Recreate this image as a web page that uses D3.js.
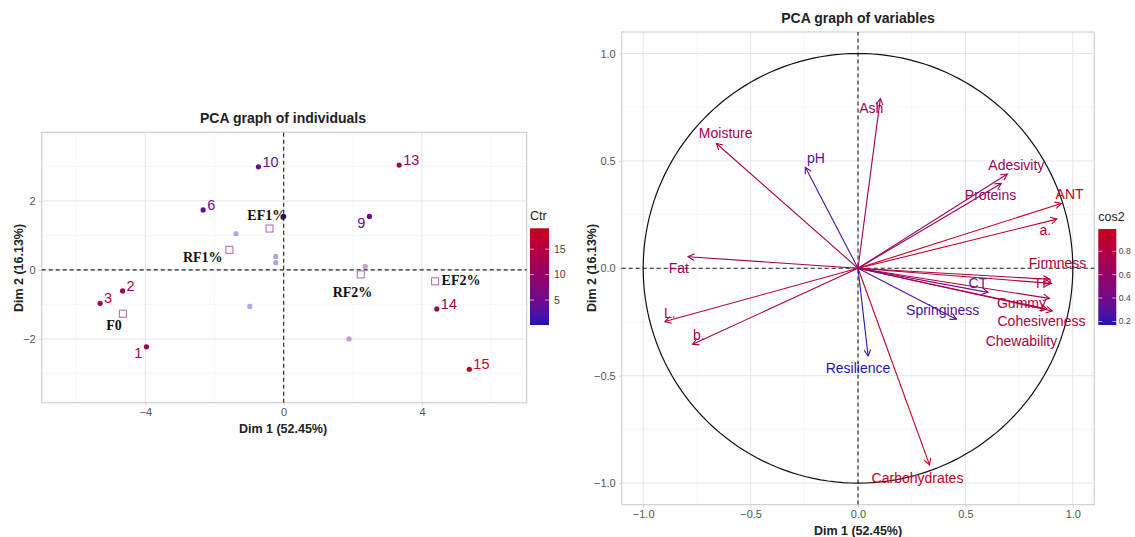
<!DOCTYPE html>
<html>
<head>
<meta charset="utf-8">
<script src="https://cdn.jsdelivr.net/npm/d3@7"></script>
<style>
  body { margin: 0; background: #fff; }
  text { font-family: "Liberation Sans", Arial, sans-serif; }
</style>
</head>
<body>
<svg id="chart" width="1135" height="537"></svg>
<script>
// ---- individuals (left plot)
indNames = ["1", "2", "3", "6", "9", "10", "13", "14", "15", ""];
indDim1 = [-3.97, -4.66, -5.31, -2.33, 2.48, -0.73, 3.34, 4.43, 5.37, 0.0];
indDim2 = [-2.23, -0.61, -0.97, 1.74, 1.55, 2.99, 3.04, -1.13, -2.88, 1.55];
indCtr = [10.6, 11.3, 14.9, 4.3, 4.4, 4.9, 10.4, 10.7, 19.0, 1.2];
indLabelSide = [-1, 1, 1, 1, -1, 1, 1, 1, 1, 0];

// faded individuals (labels hidden)
fadedDim1 = [-1.38, -0.23, -0.23, -0.98, 2.36, 1.89];
fadedDim2 = [1.05, 0.39, 0.21, -1.06, 0.10, -2.0];
fadedCtr = [1.5, 0.3, 0.2, 0.8, 2.8, 3.8];

// group means
groupNames = ["F0", "RF1%", "EF1%", "RF2%", "EF2%"];
groupDim1 = [-4.65, -1.57, -0.41, 2.23, 4.38];
groupDim2 = [-1.27, 0.58, 1.20, -0.13, -0.33];
groupLabelDim1 = [-4.91, -2.34, -0.49, 1.99, 5.13];
groupLabelDim2 = [-1.59, 0.38, 1.59, -0.64, -0.29];

ctrTicks = [5, 10, 15];

// ---- variables (right plot)
varNames = ["Moisture", "pH", "Fat", "Ash", "Adesivity", "Proteins", "ANT", "a.", "Firmness", "TP",
  "Gummy", "Cohesiveness", "Chewability", "CT", "Springiness", "Resilience", "L.", "b.", "Carbohydrates"];
varDim1 = [-0.659, -0.245, -0.791, 0.104, 0.695, 0.667, 0.946, 0.926, 0.891, 0.900,
  0.891, 0.904, 0.880, 0.605, 0.458, 0.047, -0.899, -0.770, 0.333];
varDim2 = [0.581, 0.470, 0.054, 0.790, 0.439, 0.395, 0.302, 0.229, -0.051, -0.070,
  -0.140, -0.199, -0.190, -0.112, -0.237, -0.408, -0.248, -0.354, -0.915];
varCos2 = [0.77, 0.28, 0.63, 0.64, 0.68, 0.60, 0.99, 0.91, 0.80, 0.82,
  0.81, 0.86, 0.81, 0.38, 0.27, 0.17, 0.87, 0.72, 0.95];
varLabelDim1 = [-0.616, -0.196, -0.834, 0.062, 0.737, 0.617, 0.985, 0.872, 0.929, 0.859,
  0.761, 0.854, 0.761, 0.558, 0.394, 0.0, -0.876, -0.741, 0.277];
varLabelDim2 = [0.629, 0.513, 0.0, 0.746, 0.48, 0.341, 0.346, 0.178, 0.025, -0.068,
  -0.16, -0.248, -0.338, -0.067, -0.194, -0.464, -0.208, -0.31, -0.975];

cos2Ticks = [0.2, 0.4, 0.6, 0.8];

let svg = d3.select("#chart");
const lowCol = "#1c16b4", highCol = "#c8001c";

function drawGrid(g, x, y, xMajor, xMinor, yMajor, yMinor) {
  let x0 = x.range()[0], x1 = x.range()[1], y0 = y.range()[0], y1 = y.range()[1];
  g.selectAll(".vmin").data(xMinor).enter().append("line")
    .attr("x1", d => x(d)).attr("x2", d => x(d)).attr("y1", y0).attr("y2", y1)
    .style("stroke", "#f1f1f1").style("stroke-width", 0.6);
  g.selectAll(".hmin").data(yMinor).enter().append("line")
    .attr("y1", d => y(d)).attr("y2", d => y(d)).attr("x1", x0).attr("x2", x1)
    .style("stroke", "#f1f1f1").style("stroke-width", 0.6);
  g.selectAll(".vmaj").data(xMajor).enter().append("line")
    .attr("x1", d => x(d)).attr("x2", d => x(d)).attr("y1", y0).attr("y2", y1)
    .style("stroke", "#e6e6e6").style("stroke-width", 1);
  g.selectAll(".hmaj").data(yMajor).enter().append("line")
    .attr("y1", d => y(d)).attr("y2", d => y(d)).attr("x1", x0).attr("x2", x1)
    .style("stroke", "#e6e6e6").style("stroke-width", 1);
  g.append("rect").attr("x", x0).attr("y", y1).attr("width", x1 - x0).attr("height", y0 - y1)
    .style("fill", "none").style("stroke", "#d4d4d4").style("stroke-width", 1.3);
}

function drawAxes(g, x, y, xTicks, yTicks, fmt) {
  let xa = d3.axisBottom(x).tickValues(xTicks).tickSize(3).tickFormat(fmt);
  let ya = d3.axisLeft(y).tickValues(yTicks).tickSize(3).tickFormat(fmt);
  let gx = g.append("g").attr("transform", "translate(0," + y.range()[0] + ")").call(xa);
  let gy = g.append("g").attr("transform", "translate(" + x.range()[0] + ",0)").call(ya);
  [gx, gy].forEach(a => {
    a.select(".domain").remove();
    a.selectAll("line").style("stroke", "#d4d4d4");
    a.selectAll("text").style("fill", "#555").style("font-size", "11px")
      .style("font-family", "Liberation Sans, Arial, sans-serif");
  });
}

function zeroLines(g, x, y) {
  g.append("line").attr("x1", x(0)).attr("x2", x(0)).attr("y1", y.range()[0]).attr("y2", y.range()[1])
    .style("stroke", "#222").style("stroke-width", 1.1).style("stroke-dasharray", "4,3");
  g.append("line").attr("y1", y(0)).attr("y2", y(0)).attr("x1", x.range()[0]).attr("x2", x.range()[1])
    .style("stroke", "#222").style("stroke-width", 1.1).style("stroke-dasharray", "4,3");
}

function colorBar(g, id, col, x0, y0, w, h, domain, ticks, title, fmt, labSize, labGap) {
  let grad = svg.append("defs").append("linearGradient").attr("id", id)
    .attr("x1", "0").attr("x2", "0").attr("y1", "1").attr("y2", "0");
  d3.range(0, 1.001, 0.1).forEach(t => {
    grad.append("stop").attr("offset", t).attr("stop-color", col(domain[0] + t * (domain[1] - domain[0])));
  });
  let s = d3.scaleLinear().domain(domain).range([y0 + h, y0]);
  g.append("text").attr("x", x0).attr("y", y0 - 8).text(title)
    .style("font-size", "12.5px").style("fill", "#222");
  g.append("rect").attr("x", x0).attr("y", y0).attr("width", w).attr("height", h)
    .style("fill", "url(#" + id + ")");
  ticks.forEach(t => {
    g.append("line").attr("x1", x0).attr("x2", x0 + 4).attr("y1", s(t)).attr("y2", s(t))
      .style("stroke", "#fff").style("stroke-opacity", 0.6);
    g.append("line").attr("x1", x0 + w - 4).attr("x2", x0 + w).attr("y1", s(t)).attr("y2", s(t))
      .style("stroke", "#fff").style("stroke-opacity", 0.6);
    g.append("text").attr("x", x0 + w + labGap).attr("y", s(t)).attr("dy", "0.35em").text(fmt(t))
      .style("font-size", labSize).style("fill", "#444");
  });
}

// ================= left: individuals
let xInd = d3.scaleLinear().domain([-7, 7.03]).range([41.7, 526.7]);
let yInd = d3.scaleLinear().domain([-3.85, 3.99]).range([402.7, 132.3]);
let ctrDomain = [0.1, 19.1];
let ctrColor = d3.scaleLinear().domain(ctrDomain).range([lowCol, highCol]).interpolate(d3.interpolateLab);

let gL = svg.append("g");
drawGrid(gL, xInd, yInd, [-4, 0, 4], [-6, -2, 2, 6], [-2, 0, 2], [-3, -1, 1, 3]);
drawAxes(gL, xInd, yInd, [-4, 0, 4], [-2, 0, 2], d3.format("d"));
zeroLines(gL, xInd, yInd);

gL.selectAll(".faded").data(fadedDim1).enter().append("circle")
  .attr("cx", d => xInd(d)).attr("cy", (d, i) => yInd(fadedDim2[i])).attr("r", 2.6)
  .style("fill", (d, i) => ctrColor(fadedCtr[i])).style("opacity", 0.38);

gL.selectAll(".grp").data(groupNames).enter().append("rect")
  .attr("x", (d, i) => xInd(groupDim1[i]) - 3.5).attr("y", (d, i) => yInd(groupDim2[i]) - 3.5)
  .attr("width", 7).attr("height", 7)
  .style("fill", "none").style("stroke", "#b772b7").style("stroke-width", 1.1);

gL.selectAll(".ind").data(indNames).enter().append("circle")
  .attr("cx", (d, i) => xInd(indDim1[i])).attr("cy", (d, i) => yInd(indDim2[i])).attr("r", 2.6)
  .style("fill", (d, i) => ctrColor(indCtr[i]));

gL.selectAll(".indlab").data(indNames).enter().append("text")
  .attr("x", (d, i) => xInd(indDim1[i]) + indLabelSide[i] * 4)
  .attr("y", (d, i) => yInd(indDim2[i]) + (indLabelSide[i] < 0 ? 6 : -5))
  .attr("dy", "0.35em")
  .attr("text-anchor", (d, i) => indLabelSide[i] < 0 ? "end" : "start")
  .text(d => d)
  .style("font-size", "14.5px")
  .style("fill", (d, i) => ctrColor(indCtr[i]));

gL.selectAll(".grplab").data(groupNames).enter().append("text")
  .attr("x", (d, i) => xInd(groupLabelDim1[i])).attr("y", (d, i) => yInd(groupLabelDim2[i]))
  .attr("dy", "0.35em").attr("text-anchor", "middle").text(d => d)
  .style("font-family", "Liberation Serif, Times New Roman, serif")
  .style("font-weight", "bold").style("font-size", "14px").style("fill", "#111");

gL.append("text").attr("x", 283).attr("y", 123).attr("text-anchor", "middle")
  .text("PCA graph of individuals").style("font-weight", "bold").style("font-size", "14px").style("fill", "#222");
gL.append("text").attr("x", 283).attr("y", 433).attr("text-anchor", "middle")
  .text("Dim 1 (52.45%)").style("font-weight", "bold").style("font-size", "12.5px").style("fill", "#222");
gL.append("text").attr("transform", "translate(23,268) rotate(-90)").attr("text-anchor", "middle")
  .text("Dim 2 (16.13%)").style("font-weight", "bold").style("font-size", "12.5px").style("fill", "#222");

colorBar(gL, "ctrGrad", ctrColor, 530, 228.3, 19, 96.7, ctrDomain, ctrTicks, "Ctr", d3.format("d"), "10.5px", 5);

// ================= right: variables
let xVar = d3.scaleLinear().domain([-1.1, 1.1]).range([621.7, 1094.3]);
let yVar = d3.scaleLinear().domain([-1.1, 1.1]).range([504.6, 32]);
let cos2Domain = [0.17, 0.99];
let cos2Color = d3.scaleLinear().domain(cos2Domain).range([lowCol, highCol]).interpolate(d3.interpolateLab);

let gR = svg.append("g");
drawGrid(gR, xVar, yVar, [-1, -0.5, 0, 0.5, 1], [-0.75, -0.25, 0.25, 0.75],
  [-1, -0.5, 0, 0.5, 1], [-0.75, -0.25, 0.25, 0.75]);
drawAxes(gR, xVar, yVar, [-1, -0.5, 0, 0.5, 1], [-1, -0.5, 0, 0.5, 1], d3.format(".1f"));
zeroLines(gR, xVar, yVar);

let circle = d3.range(0, 361, 2).map(a => [Math.cos(a * Math.PI / 180), Math.sin(a * Math.PI / 180)]);
gR.append("path").datum(circle)
  .attr("d", d3.line().x(d => xVar(d[0])).y(d => yVar(d[1])))
  .style("fill", "none").style("stroke", "#111").style("stroke-width", 1.2);

gR.selectAll(".arrow").data(varNames).enter().append("g").each(function(d, i) {
  let g = d3.select(this);
  let c = cos2Color(varCos2[i]);
  let x0 = xVar(0), y0 = yVar(0), x1 = xVar(varDim1[i]), y1 = yVar(varDim2[i]);
  let ang = Math.atan2(y1 - y0, x1 - x0);
  g.append("line").attr("x1", x0).attr("y1", y0).attr("x2", x1).attr("y2", y1)
    .style("stroke", c).style("stroke-width", 1.1);
  let head = [ang + Math.PI - 0.5, ang + Math.PI + 0.5].map(a => [x1 + 7 * Math.cos(a), y1 + 7 * Math.sin(a)]);
  g.append("path").attr("d", "M" + head[0] + "L" + x1 + "," + y1 + "L" + head[1])
    .style("fill", "none").style("stroke", c).style("stroke-width", 1.1);
});

gR.selectAll(".varlab").data(varNames).enter().append("text")
  .attr("x", (d, i) => xVar(varLabelDim1[i])).attr("y", (d, i) => yVar(varLabelDim2[i]))
  .attr("dy", "0.35em").attr("text-anchor", "middle").text(d => d)
  .style("font-size", "14px").style("fill", (d, i) => cos2Color(varCos2[i]));

gR.append("text").attr("x", 858).attr("y", 23).attr("text-anchor", "middle")
  .text("PCA graph of variables").style("font-weight", "bold").style("font-size", "14px").style("fill", "#222");
gR.append("text").attr("x", 858).attr("y", 535).attr("text-anchor", "middle")
  .text("Dim 1 (52.45%)").style("font-weight", "bold").style("font-size", "12.5px").style("fill", "#222");
gR.append("text").attr("transform", "translate(596,268) rotate(-90)").attr("text-anchor", "middle")
  .text("Dim 2 (16.13%)").style("font-weight", "bold").style("font-size", "12.5px").style("fill", "#222");

colorBar(gR, "cos2Grad", cos2Color, 1098.3, 229, 18, 96, cos2Domain, cos2Ticks, "cos2", d3.format(".1f"), "8.5px", 2.5);
</script>
</body>
</html>
